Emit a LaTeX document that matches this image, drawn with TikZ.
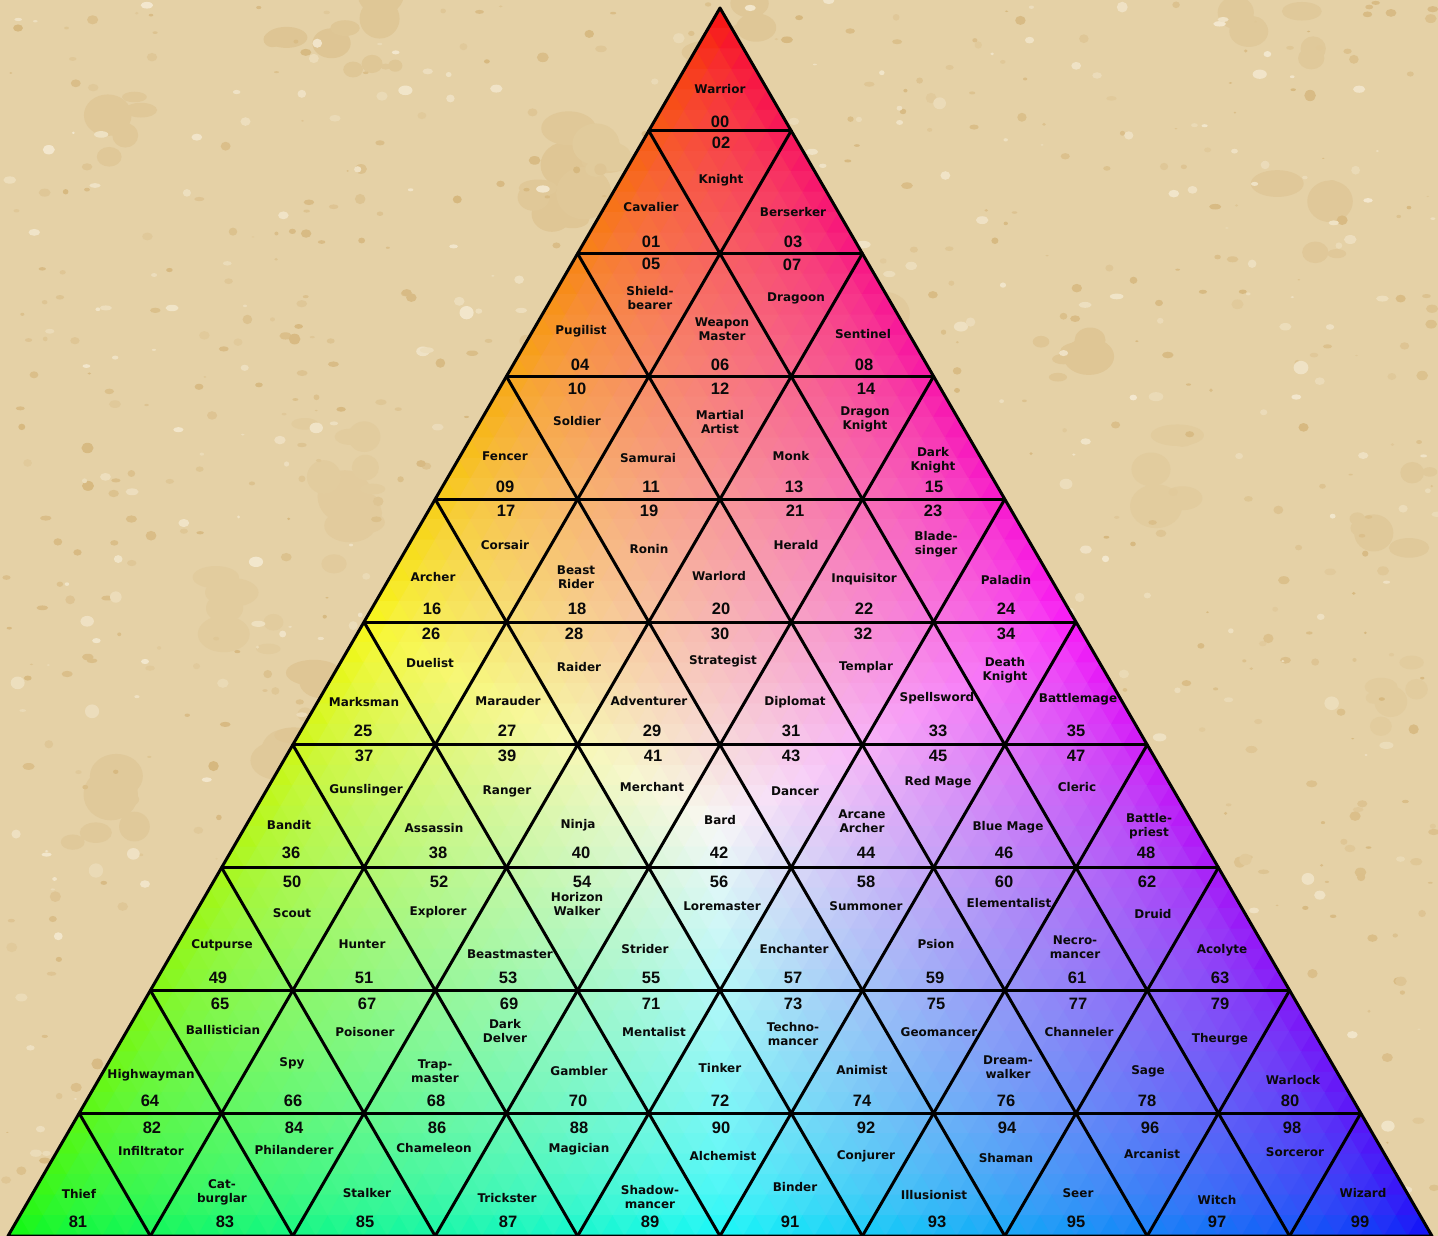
\documentclass[tikz,border=0pt]{standalone}
\usepackage{fontspec}
\setmainfont{DejaVu Sans}
\newfontfamily\numfont{Liberation Sans}
\usetikzlibrary{calc}
\definecolor{bgc}{RGB}{229,209,166}
\definecolor{blotch}{RGB}{196,152,78}
\definecolor{lightspot}{RGB}{246,237,216}
\newcommand\gridN{60}
\newcommand\setcellcolor[2]{%
  \pgfmathsetmacro\wA{\gridN-(#1)}%
  \pgfmathsetmacro\wB{(#1)-(#2)}%
  \pgfmathsetmacro\wC{#2}%
  \pgfmathsetmacro\wM{max(\wA,\wB,\wC)}%
  \pgfmathsetmacro\colR{0.97*pow(\wA/\wM,0.4545)}%
  \pgfmathsetmacro\colG{0.97*pow(\wB/\wM,0.4545)}%
  \pgfmathsetmacro\colB{0.97*pow(\wC/\wM,0.4545)}%
  \definecolor{cellc}{rgb}{\colR,\colG,\colB}%
}
\newcommand\clsitem[6]{%
  \node[nm] (n#1) at (#2,#3) {#4};
  \node[num] (k#1) at (#5,#6) {#1};
}
\tikzset{
  nm/.style={font=\bfseries\fontsize{12}{14}\selectfont, align=center, text=black!92!gray, inner sep=0pt},
  num/.style={font=\numfont\bfseries\fontsize{16.5}{16}\selectfont, text=black!92!gray, inner sep=0pt},
  gridline/.style={line width=3pt, black, line cap=round},
}
\begin{document}
\begin{tikzpicture}[x=1pt,y=-1pt]
\useasboundingbox (0,0) rectangle (1438,1236);
% parchment background
\fill[bgc] (0,0) rectangle (1438,1236);
\pgfmathsetseed{12}
% irregular ochre patches: clusters of overlapping ellipses
\foreach \k in {1,...,40}{
  \pgfmathsetmacro\cx{rnd*1438}
  \pgfmathsetmacro\cy{rnd*1236}
  \pgfmathsetmacro\bo{int(8+rnd*14)}
  \foreach \m in {1,...,6}{
    \pgfmathsetmacro\bx{\cx+rand*40}
    \pgfmathsetmacro\by{\cy+rand*40}
    \pgfmathsetmacro\br{6+rnd*22}
    \pgfmathsetmacro\bry{\br*(0.4+rnd*0.6)}
    \fill[blotch!\bo!bgc] (\bx,\by) ellipse [x radius=\br, y radius=\bry];
  }
}
\foreach \k in {1,...,800}{
  \pgfmathsetmacro\bx{rnd*1438}
  \pgfmathsetmacro\by{rnd*1236}
  \pgfmathsetmacro\br{1.2+rnd*5}
  \pgfmathsetmacro\bry{\br*(0.4+rnd*0.6)}
  \pgfmathsetmacro\bo{int(12+rnd*33)}
  \fill[blotch!\bo!bgc] (\bx,\by) ellipse [x radius=\br, y radius=\bry];
}
\foreach \k in {1,...,400}{
  \pgfmathsetmacro\bx{rnd*1438}
  \pgfmathsetmacro\by{rnd*1236}
  \pgfmathsetmacro\br{1.5+rnd*6}
  \pgfmathsetmacro\bry{\br*(0.4+rnd*0.6)}
  \pgfmathsetmacro\bo{int(30+rnd*50)}
  \fill[lightspot!\bo!bgc] (\bx,\by) ellipse [x radius=\br, y radius=\bry];
}
% corners
\coordinate (A) at (720,8);
\coordinate (L) at (8,1236);
\coordinate (R) at (1432,1236);
% colour gradient from small flat triangles
\pgfmathsetmacro\stepX{1424/\gridN}
\pgfmathsetmacro\stepY{1228/\gridN}
\foreach \i in {0,...,59}{
  \foreach \j in {0,...,\i}{
    \pgfmathsetmacro\pxL{720+(\j-\i/2)*\stepX}
    \pgfmathsetmacro\pxA{\pxL-\stepX/2}
    \pgfmathsetmacro\pxB{\pxL+\stepX/2}
    \pgfmathsetmacro\pxC{\pxL+\stepX}
    \pgfmathsetmacro\pyT{8+\i*\stepY}
    \pgfmathsetmacro\pyB{8+(\i+1)*\stepY}
    \setcellcolor{\i+2/3}{\j+1/3}
    \filldraw[fill=cellc, draw=cellc, line width=1pt, line join=round] (\pxL,\pyT) -- (\pxA,\pyB) -- (\pxB,\pyB) -- cycle;
    \ifnum\j<\i
      \setcellcolor{\i+1/3}{\j+2/3}
      \filldraw[fill=cellc, draw=cellc, line width=1pt, line join=round] (\pxL,\pyT) -- (\pxC,\pyT) -- (\pxB,\pyB) -- cycle;
    \fi
  }
}
% grid lines
\foreach \k in {1,...,9}{
  \draw[gridline] ($(A)!\k/10!(L)$) -- ($(A)!\k/10!(R)$);
  \draw[gridline] ($(L)!\k/10!(R)$) -- ($(A)!\k/10!(R)$);
  \draw[gridline] ($(L)!\k/10!(R)$) -- ($(A)!{1-\k/10}!(L)$);
}
\draw[gridline, line join=round] (A) -- (L) -- (R) -- cycle;
% labels
\clsitem{00}{720}{89}{Warrior}{720}{122}
\clsitem{01}{651}{207}{Cavalier}{651}{242}
\clsitem{02}{721}{180}{Knight}{721}{143}
\clsitem{03}{793}{212}{Berserker}{793}{242}
\clsitem{04}{581}{331}{Pugilist}{580}{365}
\clsitem{05}{650}{298}{Shield-\\bearer}{651}{264}
\clsitem{06}{722}{329}{Weapon\\Master}{720}{365}
\clsitem{07}{796}{298}{Dragoon}{792}{265}
\clsitem{08}{863}{334}{Sentinel}{864}{365}
\clsitem{09}{505}{456}{Fencer}{505}{487}
\clsitem{10}{577}{421}{Soldier}{577}{389}
\clsitem{11}{648}{458}{Samurai}{651}{487}
\clsitem{12}{720}{422}{Martial\\Artist}{720}{389}
\clsitem{13}{791}{456}{Monk}{794}{487}
\clsitem{14}{865}{419}{Dragon\\Knight}{866}{389}
\clsitem{15}{933}{460}{Dark\\Knight}{934}{487}
\clsitem{16}{433}{577}{Archer}{432}{609}
\clsitem{17}{505}{545}{Corsair}{506}{511}
\clsitem{18}{576}{577}{Beast\\Rider}{577}{609}
\clsitem{19}{649}{549}{Ronin}{649}{511}
\clsitem{20}{719}{576}{Warlord}{721}{609}
\clsitem{21}{796}{545}{Herald}{795}{511}
\clsitem{22}{864}{579}{Inquisitor}{864}{609}
\clsitem{23}{936}{544}{Blade-\\singer}{933}{511}
\clsitem{24}{1006}{580}{Paladin}{1006}{609}
\clsitem{25}{364}{702}{Marksman}{363}{731}
\clsitem{26}{430}{663}{Duelist}{431}{634}
\clsitem{27}{508}{701}{Marauder}{507}{731}
\clsitem{28}{579}{667}{Raider}{574}{634}
\clsitem{29}{649}{701}{Adventurer}{652}{731}
\clsitem{30}{723}{661}{Strategist}{720}{634}
\clsitem{31}{795}{702}{Diplomat}{791}{731}
\clsitem{32}{866}{667}{Templar}{863}{634}
\clsitem{33}{937}{698}{Spellsword}{938}{731}
\clsitem{34}{1005}{670}{Death\\Knight}{1006}{634}
\clsitem{35}{1078}{699}{Battlemage}{1076}{731}
\clsitem{36}{289}{825}{Bandit}{291}{853}
\clsitem{37}{366}{790}{Gunslinger}{364}{756}
\clsitem{38}{434}{828}{Assassin}{438}{853}
\clsitem{39}{507}{791}{Ranger}{507}{756}
\clsitem{40}{578}{825}{Ninja}{581}{853}
\clsitem{41}{652}{787}{Merchant}{653}{756}
\clsitem{42}{720}{820}{Bard}{719}{853}
\clsitem{43}{795}{791}{Dancer}{791}{756}
\clsitem{44}{862}{821}{Arcane\\Archer}{866}{853}
\clsitem{45}{938}{782}{Red Mage}{938}{756}
\clsitem{46}{1008}{827}{Blue Mage}{1004}{853}
\clsitem{47}{1077}{787}{Cleric}{1076}{756}
\clsitem{48}{1149}{826}{Battle-\\priest}{1146}{853}
\clsitem{49}{222}{945}{Cutpurse}{218}{978}
\clsitem{50}{292}{913}{Scout}{292}{882}
\clsitem{51}{362}{944}{Hunter}{364}{978}
\clsitem{52}{438}{912}{Explorer}{439}{882}
\clsitem{53}{510}{954}{Beastmaster}{508}{978}
\clsitem{54}{577}{904}{Horizon\\Walker}{582}{882}
\clsitem{55}{645}{949}{Strider}{651}{978}
\clsitem{56}{722}{906}{Loremaster}{719}{882}
\clsitem{57}{794}{949}{Enchanter}{793}{978}
\clsitem{58}{866}{906}{Summoner}{866}{882}
\clsitem{59}{936}{944}{Psion}{935}{978}
\clsitem{60}{1009}{903}{Elementalist}{1004}{882}
\clsitem{61}{1075}{947}{Necro-\\mancer}{1077}{978}
\clsitem{62}{1153}{914}{Druid}{1147}{882}
\clsitem{63}{1222}{950}{Acolyte}{1220}{978}
\clsitem{64}{151}{1075}{Highwayman}{150}{1101}
\clsitem{65}{223}{1030}{Ballistician}{220}{1004}
\clsitem{66}{292}{1063}{Spy}{293}{1101}
\clsitem{67}{365}{1032}{Poisoner}{367}{1004}
\clsitem{68}{435}{1071}{Trap-\\master}{436}{1101}
\clsitem{69}{505}{1031}{Dark\\Delver}{509}{1004}
\clsitem{70}{579}{1071}{Gambler}{578}{1101}
\clsitem{71}{654}{1032}{Mentalist}{651}{1004}
\clsitem{72}{720}{1068}{Tinker}{720}{1101}
\clsitem{73}{793}{1034}{Techno-\\mancer}{793}{1004}
\clsitem{74}{862}{1070}{Animist}{862}{1101}
\clsitem{75}{939}{1032}{Geomancer}{936}{1004}
\clsitem{76}{1008}{1067}{Dream-\\walker}{1006}{1101}
\clsitem{77}{1079}{1032}{Channeler}{1078}{1004}
\clsitem{78}{1148}{1071}{Sage}{1147}{1101}
\clsitem{79}{1220}{1039}{Theurge}{1220}{1004}
\clsitem{80}{1293}{1080}{Warlock}{1290}{1101}
\clsitem{81}{79}{1194}{Thief}{78}{1222}
\clsitem{82}{151}{1151}{Infiltrator}{152}{1128}
\clsitem{83}{222}{1192}{Cat-\\burglar}{225}{1222}
\clsitem{84}{294}{1150}{Philanderer}{294}{1128}
\clsitem{85}{367}{1193}{Stalker}{365}{1222}
\clsitem{86}{434}{1148}{Chameleon}{437}{1128}
\clsitem{87}{507}{1198}{Trickster}{508}{1222}
\clsitem{88}{579}{1149}{Magician}{579}{1128}
\clsitem{89}{650}{1197}{Shadow-\\mancer}{650}{1222}
\clsitem{90}{723}{1156}{Alchemist}{721}{1128}
\clsitem{91}{795}{1187}{Binder}{790}{1222}
\clsitem{92}{866}{1156}{Conjurer}{866}{1128}
\clsitem{93}{934}{1195}{Illusionist}{937}{1222}
\clsitem{94}{1006}{1158}{Shaman}{1007}{1128}
\clsitem{95}{1078}{1193}{Seer}{1076}{1222}
\clsitem{96}{1152}{1154}{Arcanist}{1150}{1128}
\clsitem{97}{1217}{1200}{Witch}{1217}{1222}
\clsitem{98}{1295}{1152}{Sorceror}{1292}{1128}
\clsitem{99}{1363}{1193}{Wizard}{1360}{1222}
\end{tikzpicture}
\end{document}
